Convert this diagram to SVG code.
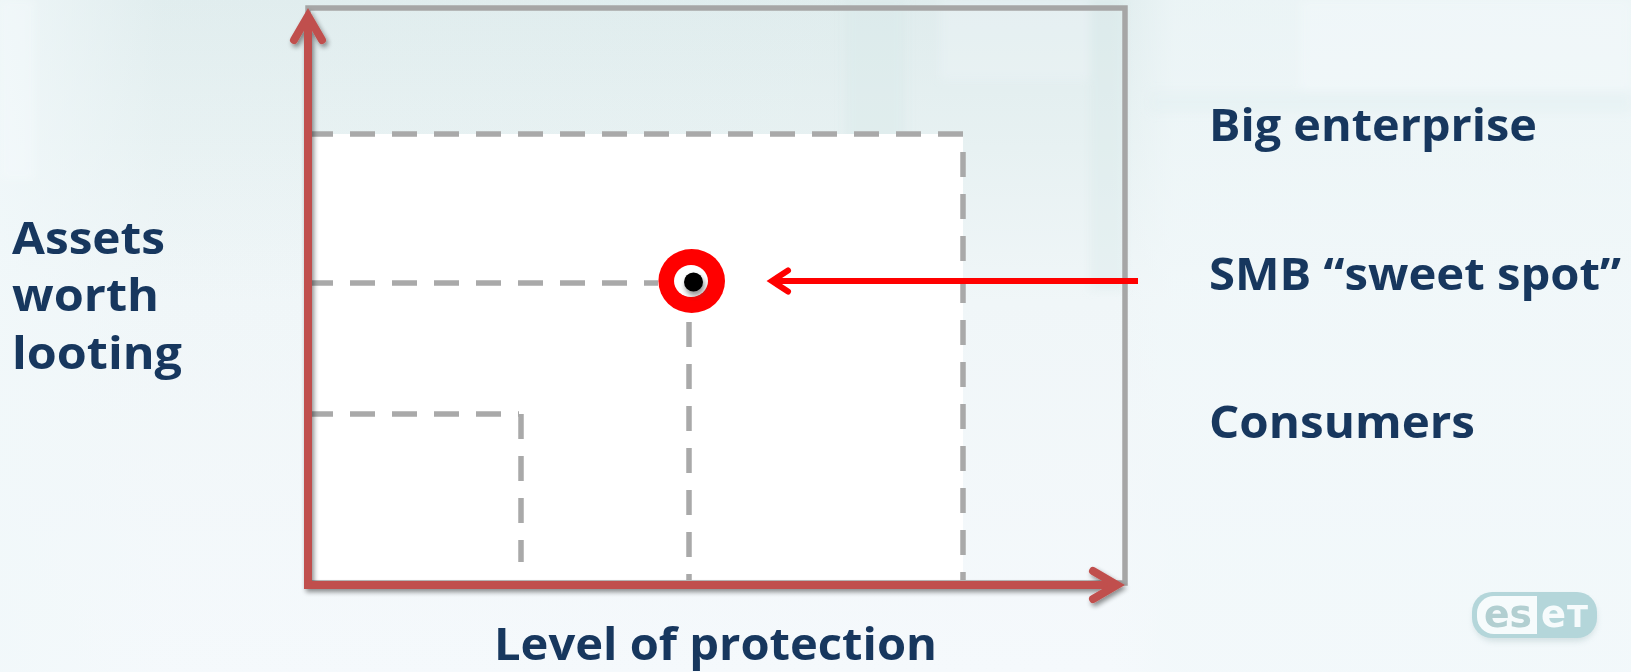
<svg xmlns="http://www.w3.org/2000/svg" width="1631" height="672" viewBox="0 0 1631 672">
<defs>
<linearGradient id="bg" x1="0" y1="0" x2="0" y2="1"><stop offset="0" stop-color="#dfeced"/><stop offset="0.22" stop-color="#e7f1f2"/><stop offset="0.45" stop-color="#f0f6f8"/><stop offset="1" stop-color="#f5f9fc"/></linearGradient>
<linearGradient id="left" x1="0" y1="0" x2="1" y2="0"><stop offset="0" stop-color="#f1f8fa" stop-opacity="0.8"/><stop offset="0.1" stop-color="#f1f8fa" stop-opacity="0.1"/><stop offset="0.68" stop-color="#f1f8fa" stop-opacity="0"/><stop offset="0.72" stop-color="#f1f8fa" stop-opacity="0.65"/><stop offset="1" stop-color="#f1f8fa" stop-opacity="0.7"/></linearGradient>
<filter id="sh" filterUnits="userSpaceOnUse" x="270" y="0" width="880" height="620"><feGaussianBlur in="SourceAlpha" stdDeviation="2.5"/><feOffset dx="2" dy="3"/><feComponentTransfer><feFuncA type="linear" slope="0.45"/></feComponentTransfer><feMerge><feMergeNode/><feMergeNode in="SourceGraphic"/></feMerge></filter>
<filter id="soft" filterUnits="userSpaceOnUse" x="0" y="0" width="1631" height="672"><feGaussianBlur stdDeviation="5"/></filter>
<filter id="soft2" filterUnits="userSpaceOnUse" x="660" y="250" width="70" height="70"><feGaussianBlur stdDeviation="2.5"/></filter>
<filter id="soft3" filterUnits="userSpaceOnUse" x="1460" y="580" width="150" height="80"><feGaussianBlur stdDeviation="3"/></filter>
<filter id="soft4" filterUnits="userSpaceOnUse" x="1460" y="580" width="150" height="80"><feGaussianBlur stdDeviation="0.7"/></filter>
<marker id="redhead" markerUnits="userSpaceOnUse" markerWidth="44" markerHeight="44" refX="30" refY="22" orient="auto"><path d="M6 8L30 22L6 36" fill="none" stroke="#c0504d" stroke-width="8" stroke-linecap="round"/></marker>
<marker id="brighthead" markerUnits="userSpaceOnUse" markerWidth="30" markerHeight="30" refX="23" refY="15" orient="auto"><path d="M7 4.5L23 15L7 25.5" fill="none" stroke="#f00" stroke-width="6" stroke-linecap="round"/></marker>
</defs>
<style>
text{font-family:"Open Sans","Noto Sans","Liberation Sans",sans-serif;font-weight:700;font-size:44px;fill:#17375e}
.d{fill:none;stroke:#a9a9a9;stroke-width:5.5;stroke-dasharray:25 17}
.axis{fill:none;stroke:#c0504d;stroke-width:8;marker-end:url(#redhead)}
</style>
<g id="background">
<rect width="1631" height="672" fill="url(#bg)"/>
<rect width="1631" height="672" fill="url(#left)"/>
<g filter="url(#soft)">
<rect x="845" y="0" width="60" height="170" fill="#d6e9e8" opacity="0.4"/>
<rect x="1090" y="0" width="35" height="290" fill="#d8e9e9" opacity="0.35"/>
<rect x="1150" y="92" width="481" height="20" fill="#e4eff2" opacity="0.5"/>
<rect x="1300" y="0" width="331" height="90" fill="#fafdfe" opacity="0.3"/>
<rect x="940" y="0" width="150" height="80" fill="#f0f7f9" opacity="0.35"/>
<rect x="0" y="0" width="35" height="180" fill="#fafdfe" opacity="0.3"/>
</g>
</g>
<g id="plot">
<rect x="308" y="134" width="655" height="451" fill="#fff"/>
<rect x="308" y="8" width="817" height="575" fill="none" stroke="#a6a6a6" stroke-width="5.5"/>
</g>
<g id="connectors">
<path class="d" d="M308 134H963"/>
<path class="d" d="M963 152V580"/>
<path class="d" d="M308 283H658"/>
<path class="d" d="M689 322V580"/>
<path class="d" d="M308 414H519"/>
<path class="d" d="M521 414V562"/>
<g filter="url(#sh)">
<path class="axis" d="M308 585V16"/>
<path class="axis" d="M304 585H1117"/>
</g>
<path d="M1138 281H772" fill="none" stroke="#f00" stroke-width="6" marker-end="url(#brighthead)"/>
</g>
<g id="sweet-spot">
<ellipse cx="691.7" cy="281" rx="33.3" ry="32" fill="#f00"/>
<ellipse cx="691" cy="281" rx="17" ry="16" fill="#fff"/>
<circle cx="695" cy="286" r="10" fill="#555" opacity="0.6" filter="url(#soft2)"/>
<circle cx="693.5" cy="282" r="9.5" fill="#000"/>
</g>
<g id="y-label"><text x="12" y="254" textLength="153" lengthAdjust="spacingAndGlyphs">Assets</text><text x="12" y="311" textLength="147" lengthAdjust="spacingAndGlyphs">worth</text><text x="12" y="369" textLength="170" lengthAdjust="spacingAndGlyphs">looting</text></g>
<g id="x-label"><text x="494" y="660" textLength="443" lengthAdjust="spacingAndGlyphs">Level of protection</text></g>
<g id="big-enterprise"><text x="1209" y="141" textLength="328" lengthAdjust="spacingAndGlyphs">Big enterprise</text></g>
<g id="smb"><text x="1209" y="290" textLength="412" lengthAdjust="spacingAndGlyphs">SMB “sweet spot”</text></g>
<g id="consumers"><text x="1209" y="438" textLength="266" lengthAdjust="spacingAndGlyphs">Consumers</text></g>
<g id="logo">
<rect x="1474" y="597" width="122" height="44" rx="20" fill="#9db8bb" opacity="0.4" filter="url(#soft3)"/>
<rect x="1472" y="592" width="125" height="46" rx="20" fill="#b4d6da"/>
<path d="M1494 596H1537V634H1494A17 17 0 0 1 1477 617V613A17 17 0 0 1 1494 596Z" fill="#f6fbfc"/>
<g filter="url(#soft4)">
<text x="1484" y="627" textLength="48" lengthAdjust="spacingAndGlyphs" style="font-family:'DejaVu Sans',sans-serif;font-size:39px;fill:#b2cfd1">es</text>
<text x="1541" y="627" textLength="25" lengthAdjust="spacingAndGlyphs" style="font-family:'DejaVu Sans',sans-serif;font-size:39px;fill:#f6fbfc">e</text>
<text x="1567" y="627" textLength="21" lengthAdjust="spacingAndGlyphs" style="font-family:'DejaVu Sans',sans-serif;font-size:30px;fill:#f6fbfc">T</text>
</g>
</g>
</svg>
